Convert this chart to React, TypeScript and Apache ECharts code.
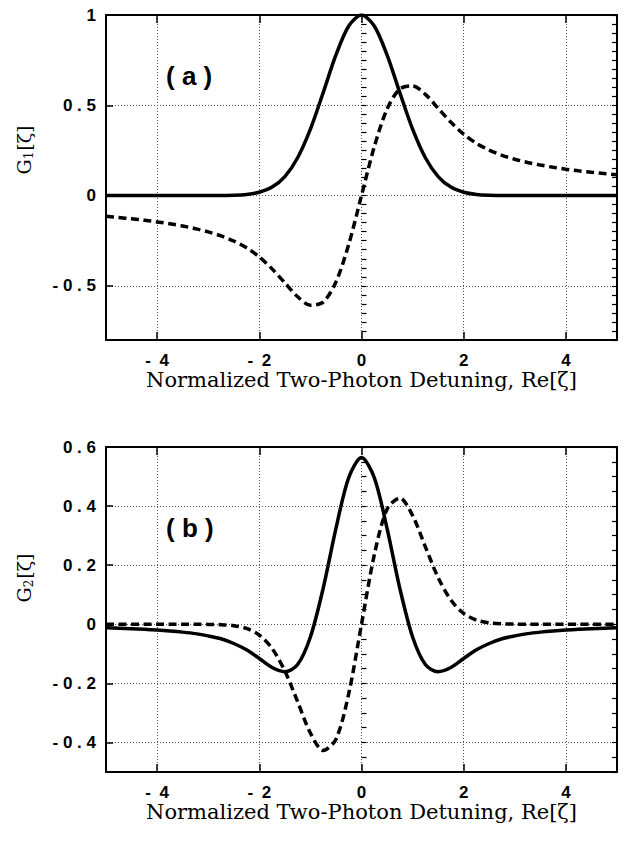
import React, { useEffect, useRef } from "react";
import * as echarts from "echarts";

// Normalized two-photon detuning Re[zeta]
const xValues = [-5, -4.75, -4.5, -4.25, -4, -3.75, -3.5, -3.25, -3, -2.75, -2.5, -2.25, -2, -1.75, -1.5, -1.25, -1, -0.75, -0.5, -0.25, 0, 0.25, 0.5, 0.75, 1, 1.25, 1.5, 1.75, 2, 2.25, 2.5, 2.75, 3, 3.25, 3.5, 3.75, 4, 4.25, 4.5, 4.75, 5];

// Panel (a): G1 — solid and dashed curves
const g1Solid = [0, 0, 0, 0, 0, 0, 0, 0, 0, 0.0005, 0.0019, 0.0063, 0.0183, 0.0468, 0.1054, 0.2096, 0.3679, 0.5698, 0.7788, 0.9394, 1, 0.9394, 0.7788, 0.5698, 0.3679, 0.2096, 0.1054, 0.0468, 0.0183, 0.0063, 0.0019, 0.0005, 0, 0, 0, 0, 0, 0, 0, 0, 0];
const g1Dashed = [-0.1152, -0.1216, -0.1287, -0.1368, -0.1459, -0.1565, -0.1688, -0.1834, -0.2012, -0.223, -0.2517, -0.2892, -0.34, -0.4061, -0.4832, -0.5605, -0.6072, -0.5902, -0.4789, -0.2706, 0, 0.2706, 0.4789, 0.5902, 0.6072, 0.5605, 0.4832, 0.4061, 0.34, 0.2892, 0.2517, 0.223, 0.2012, 0.1834, 0.1688, 0.1565, 0.1459, 0.1368, 0.1287, 0.1216, 0.1152];

// Panel (b): G2 — solid and dashed curves
const g2Solid = [-0.012, -0.0134, -0.0151, -0.0171, -0.0196, -0.0227, -0.0266, -0.0317, -0.0393, -0.049, -0.0651, -0.0865, -0.1159, -0.1465, -0.1607, -0.1364, -0.043, 0.1216, 0.3247, 0.4965, 0.5642, 0.4965, 0.3247, 0.1216, -0.043, -0.1364, -0.1607, -0.1465, -0.1159, -0.0865, -0.0651, -0.049, -0.0393, -0.0317, -0.0266, -0.0227, -0.0196, -0.0171, -0.0151, -0.0134, -0.012];
const g2Dashed = [0, 0, 0, 0, 0, 0, 0, 0, -0.0004, -0.0014, -0.0048, -0.0142, -0.0366, -0.0819, -0.1581, -0.262, -0.3679, -0.4273, -0.3894, -0.2348, 0, 0.2348, 0.3894, 0.4273, 0.3679, 0.262, 0.1581, 0.0819, 0.0366, 0.0142, 0.0048, 0.0014, 0.0004, 0, 0, 0, 0, 0, 0, 0, 0];

// Axis ranges and texts
const xRange = [-5, 5];
const yRangeA = [-0.8, 1];
const yRangeB = [-0.5, 0.6];
const xTitle = "Normalized Two-Photon Detuning, Re[ζ]";
const panelLabels = ["( a )", "( b )"];
const yNameSubs = ["1", "2"];

const SANS = '"Liberation Sans", Arial, sans-serif';
const SERIF = '"DejaVu Serif", "Liberation Serif", serif';

function fmtX(v: number): string {
  const r = Math.round(v * 1000) / 1000;
  if (Math.abs(r - Math.round(r / 2) * 2) > 1e-6) return "";
  if (r < 0) return "-\u2002" + Math.abs(r);
  return String(r);
}

function makeFmtY(step: number) {
  return (v: number): string => {
    const r = Math.round(v * 1000) / 1000;
    if (Math.abs(r / step - Math.round(r / step)) > 1e-6) return "";
    if (r === 0) return "0";
    const body = String(Math.abs(r)).split("").join(" ");
    return r < 0 ? "- " + body : body;
  };
}

const frameLine = { show: true, onZero: false, lineStyle: { color: "#000", width: 2 } };
const gridDots = { show: true, lineStyle: { color: "#555", width: 1, type: [1, 2] as any } };
const labelStyle = { fontFamily: SANS, fontWeight: "bold" as const, fontSize: 17, color: "#000" };

function xAxesFor(gridIndex: number) {
  return [
    {
      gridIndex,
      type: "value",
      position: "bottom",
      min: xRange[0],
      max: xRange[1],
      splitNumber: 5,
      axisLine: frameLine,
      axisTick: { show: true, inside: true, length: 8, lineStyle: { color: "#000", width: 1.5 } },
      axisLabel: { ...labelStyle, margin: 12, formatter: fmtX, showMinLabel: false, showMaxLabel: false },
      splitLine: gridDots,
      name: xTitle,
      nameLocation: "middle",
      nameGap: 27,
      nameTextStyle: { fontFamily: SERIF, fontSize: 21, color: "#000" },
    },
    {
      gridIndex,
      type: "value",
      position: "top",
      min: xRange[0],
      max: xRange[1],
      splitNumber: 5,
      axisLine: frameLine,
      axisTick: { show: true, inside: true, length: 8, lineStyle: { color: "#000", width: 1.5 } },
      axisLabel: { show: false },
      splitLine: { show: false },
    },
  ];
}

function yAxesFor(gridIndex: number, range: number[], splitNumber: number, step: number) {
  const common = { gridIndex, type: "value", min: range[0], max: range[1] };
  return [
    {
      ...common,
      position: "left",
      splitNumber,
      axisLine: frameLine,
      axisTick: { show: true, inside: true, length: 7, lineStyle: { color: "#000", width: 1.5 } },
      axisLabel: { ...labelStyle, margin: 10, formatter: makeFmtY(step), showMinLabel: false },
      splitLine: gridDots,
    },
    {
      ...common,
      position: "left",
      interval: 0.05,
      axisLine: { show: false },
      axisTick: { show: true, inside: true, length: 5, lineStyle: { color: "#000", width: 1.2 } },
      axisLabel: { show: false },
      splitLine: { show: false },
    },
    {
      ...common,
      position: "right",
      interval: 0.05,
      axisLine: frameLine,
      axisTick: { show: true, inside: true, length: 5, lineStyle: { color: "#000", width: 1.2 } },
      axisLabel: { show: false },
      splitLine: { show: false },
    },
  ];
}

function curve(ys: number[], xAxisIndex: number, yAxisIndex: number, dashed: boolean) {
  return {
    type: "line",
    xAxisIndex,
    yAxisIndex,
    data: xValues.map((x, i) => [x, ys[i]]),
    showSymbol: false,
    symbol: "none",
    smooth: 0.3,
    lineStyle: { color: "#000", width: 3.5, type: dashed ? ([8, 4.5] as any) : "solid" },
    z: 5,
  };
}

export default function App() {
  const ref = useRef<HTMLDivElement>(null);
  useEffect(() => {
    if (!ref.current) return;
    const chart = echarts.init(ref.current, null, { renderer: "svg" });
    const yName = (n: string, x: number, y: number) => ({
      type: "group",
      x,
      y,
      rotation: Math.PI / 2,
      children: [
        {
          type: "text",
          x: 0,
          y: 0,
          style: {
            text: `{g|G}{s|${n}}{g|[ζ]}`,
            align: "center",
            verticalAlign: "middle",
            fill: "#000",
            rich: {
              g: { fontFamily: SERIF, fontSize: 19, fill: "#000", lineHeight: 24 },
              s: { fontFamily: SERIF, fontSize: 12, fill: "#000", lineHeight: 24, padding: [10, 1, 0, 0] },
            },
          },
        },
      ],
    });
    chart.setOption({
      animation: false,
      backgroundColor: "#fff",
      grid: [
        { left: 106, top: 15, width: 511, height: 325 },
        { left: 106, top: 447, width: 511, height: 325 },
      ],
      xAxis: [...xAxesFor(0), ...xAxesFor(1)],
      yAxis: [...yAxesFor(0, yRangeA, 4, 0.5), ...yAxesFor(1, yRangeB, 5, 0.2)],
      series: [
        curve(g1Solid, 0, 0, false),
        curve(g1Dashed, 0, 0, true),
        curve(g2Solid, 2, 3, false),
        curve(g2Dashed, 2, 3, true),
      ],
      graphic: [
        yName(yNameSubs[0], 24, 150),
        yName(yNameSubs[1], 24, 578),
        {
          type: "text",
          x: 166,
          y: 76,
          style: { text: panelLabels[0], font: `bold 26px ${SANS}`, fill: "#000", verticalAlign: "middle" },
        },
        {
          type: "text",
          x: 166,
          y: 528,
          style: { text: panelLabels[1], font: `bold 26px ${SANS}`, fill: "#000", verticalAlign: "middle" },
        },
      ],
    });
    return () => chart.dispose();
  }, []);
  return <div ref={ref} style={{ position: "fixed", left: 0, top: 0, width: 624, height: 842, background: "#fff" }} />;
}
